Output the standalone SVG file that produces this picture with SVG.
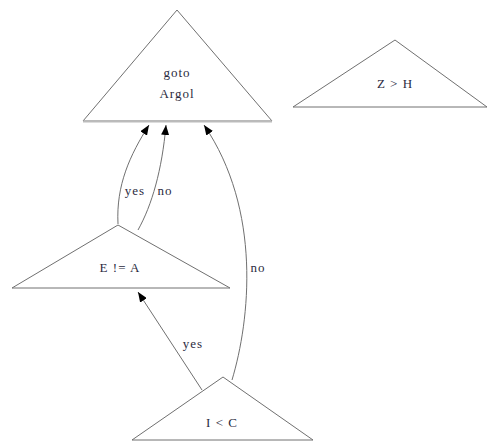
<svg xmlns="http://www.w3.org/2000/svg" width="492" height="443" viewBox="0 0 492 443">
<style>
.n polygon{fill:#fff;stroke:#707070;stroke-width:1}
text{font-family:"Liberation Serif","DejaVu Serif",serif;font-size:13px;fill:#2a2a40;text-anchor:middle;letter-spacing:1px}
.e path{fill:none;stroke:#707070;stroke-width:1}
</style>
<defs>
<marker id="ah" markerWidth="10" markerHeight="8" refX="10" refY="4" orient="auto" markerUnits="userSpaceOnUse">
<path d="M0,0 L10,4 L0,8 Z" fill="#000"/>
</marker>
</defs>
<rect width="492" height="443" fill="#fff"/>
<g id="goto">
<g class="n"><polygon points="177,10 272,121 83,121"/></g>
<line x1="83" y1="121.5" x2="272" y2="121.5" stroke="#bbb" stroke-width="2"/>
<text x="177" y="77">goto</text>
<text x="177" y="98">Argol</text>
</g>
<g id="zh" class="n">
<polygon points="395,40 487,107 293,107"/>
<text x="395" y="88">Z &gt; H</text>
</g>
<g id="ea" class="n">
<polygon points="118,225 230,288 12,288"/>
<text x="120" y="272">E != A</text>
</g>
<g id="ic" class="n">
<polygon points="223,377 313,440 132,440"/>
<text x="222" y="427">I &lt; C</text>
</g>
<g id="edges" class="e">
<path d="M118,224 C116,185 130,155 149,125" marker-end="url(#ah)"/>
<path d="M138,230 C152,205 162,170 166,125" marker-end="url(#ah)"/>
<path d="M232,380 C250,320 262,210 204,125" marker-end="url(#ah)"/>
<path d="M202,390 L138,292" marker-end="url(#ah)"/>
<text x="135" y="195">yes</text>
<text x="165" y="195">no</text>
<text x="258" y="272">no</text>
<text x="193" y="348">yes</text>
</g>
</svg>
